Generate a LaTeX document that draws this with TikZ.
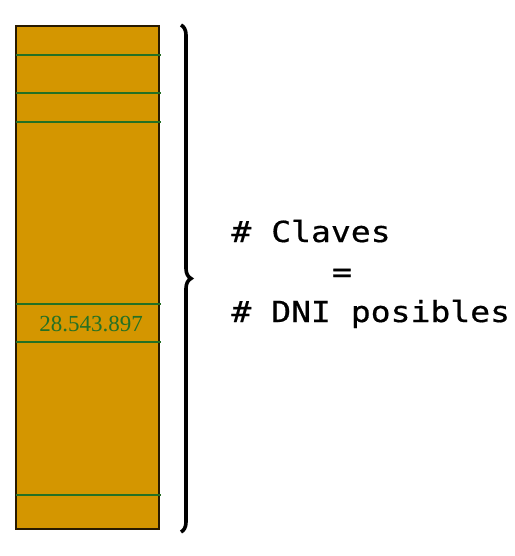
\documentclass[tikz,border=0pt]{standalone}
\usepackage{fontspec}
\usepackage{xcolor}
\usetikzlibrary{decorations.pathreplacing}
\newfontfamily\keyfont[FakeStretch=1.14, FakeBold=0.6]{DejaVu Sans Mono}
\newfontfamily\numfont{Liberation Serif}
\definecolor{gold}{RGB}{212,150,0}
\definecolor{rowgreen}{RGB}{36,112,36}
\definecolor{edge}{RGB}{40,26,0}

\begin{document}
\begin{tikzpicture}[x=0.5pt, y=-0.5pt]
    \useasboundingbox (0,0) rectangle (514,556);
    % table of keys
    \draw[fill=gold, draw=edge, line width=1.1pt] (16,26) rectangle (159,529);
    \foreach \y in {55,93,122,304,342,495}
        \draw[rowgreen, line width=1.1pt] (16,\y) -- (161,\y);
    \node[inner sep=0, anchor=base, text=rowgreen, font=\numfont\fontsize{11.5}{12}\selectfont] (dni) at (91,331) {28.543.897};
    % brace
    \draw[line width=1.8pt, decorate, decoration={brace, amplitude=5pt}] (181,25) -- (181,532);
    \node[inner sep=0, anchor=base west, font=\keyfont\fontsize{14.5}{16}\selectfont] (claves) at (231,242) {\# Claves};
    \node[inner sep=0, anchor=base, font=\keyfont\fontsize{14.5}{16}\selectfont] (igual) at (342,282) {=};
    \node[inner sep=0, anchor=base west, font=\keyfont\fontsize{14.5}{16}\selectfont] (posibles) at (231,322) {\# DNI posibles};
\end{tikzpicture}
\end{document}
